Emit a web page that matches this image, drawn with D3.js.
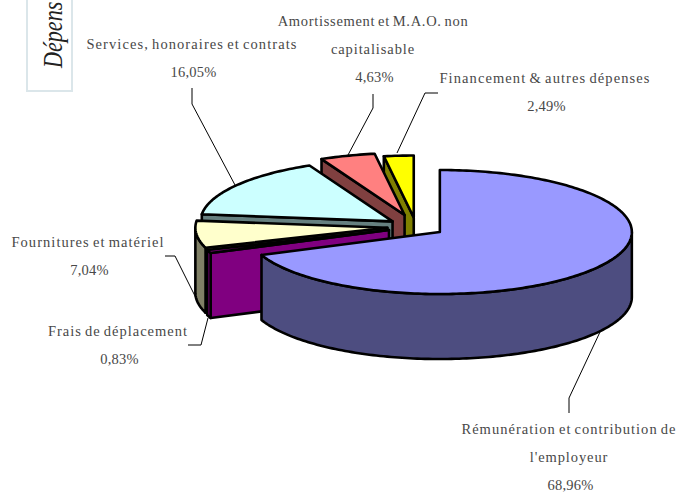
<!DOCTYPE html>
<html lang="fr">
<head>
    <meta charset="UTF-8">
    <title>Dépenses</title>
    <style>
        html, body { margin: 0; padding: 0; background: #fff; overflow: hidden; }
        .lbl {
            font-family: "Liberation Serif", serif;
            font-size: 14.5px;
            word-spacing: -1.5px;
            fill: #484848;
            text-anchor: middle;
        }
    </style>
    <script src="https://d3js.org/d3.v7.min.js"></script>
</head>
<body>
<svg id="chart" width="676" height="494"></svg>

<script>
    // values as printed on the chart, clockwise from 12 o'clock
    const categories = [
        "Rémunération et contribution de l'employeur",
        "Frais de déplacement",
        "Fournitures et matériel",
        "Services, honoraires et contrats",
        "Amortissement et M.A.O. non capitalisable",
        "Financement & autres dépenses"
    ];
    const values = [68.96, 0.83, 7.04, 16.05, 4.63, 2.49];
    const valueLabels = ["68,96%", "0,83%", "7,04%", "16,05%", "4,63%", "2,49%"];

    // look of each slice, same order as above
    const topColors = ["#9999ff", "#800080", "#ffffcc", "#ccffff", "#ff8080", "#ffff00"];
    const sideColors = ["#4d4d80", "#800080", "#808066", "#668080", "#804040", "#808000"];
    const pulls = [0.15, 0.15, 0.15, 0.15, 0.2, 0.15];

    // label lines: centre x, first baseline, wanted width of line 1
    const labelLines = [
        ["Rémunération et contribution de", "l'employeur"],
        ["Frais de déplacement"],
        ["Fournitures et matériel"],
        ["Services, honoraires et contrats"],
        ["Amortissement et M.A.O. non", "capitalisable"],
        ["Financement & autres dépenses"]
    ];
    const labelPos = [[569, 434], [118, 336], [88, 247], [192, 49], [373, 26], [545, 83]];
    const labelWidth = [214, 139, 152, 210, 190, 210];
    const leaders = [
        [[569, 413], [569, 398], [600, 332]],
        [[188, 345], [201, 345], [208, 318]],
        [[165, 256], [175, 256], [197, 300]],
        [[192, 88], [192, 104], [235, 185]],
        [[373, 94], [373, 108], [348, 155]],
        [[438, 93], [425, 93], [397, 153]]
    ];

    const cx = 416, cy = 226.8, rx = 192, ry = 62, depth = 65;

    const svg = d3.select("#chart");
    const line = d3.line();

    const slices = d3.pie().sort(null)(values).map(function (d, i) {
        const mid = (d.startAngle + d.endAngle) / 2;
        return {
            i: i,
            a0: d.startAngle,
            a1: d.endAngle,
            ox: cx + pulls[i] * rx * Math.sin(mid),
            oy: cy - pulls[i] * ry * Math.cos(mid)
        };
    });

    function rim(s, a, drop) {
        return [s.ox + rx * Math.sin(a), s.oy - ry * Math.cos(a) + (drop || 0)];
    }

    function arcPoints(s, a0, a1, drop) {
        const n = Math.max(2, Math.ceil((a1 - a0) / 0.02));
        return d3.range(n + 1).map(function (k) {
            return rim(s, a0 + (a1 - a0) * k / n, drop);
        });
    }

    function draw(points, fill) {
        svg.append("path")
            .attr("d", line(points) + "Z")
            .attr("fill", fill)
            .attr("stroke", "#000")
            .attr("stroke-width", 2.6)
            .attr("stroke-linejoin", "round");
    }

    // title box, runs off the top of the picture
    svg.append("rect")
        .attr("x", 27).attr("y", -20)
        .attr("width", 45).attr("height", 111)
        .attr("fill", "#fff")
        .attr("stroke", "#dbe6ea")
        .attr("stroke-width", 2);
    svg.append("text")
        .attr("transform", "translate(62,68) rotate(-90) scale(0.82,1)")
        .attr("font-family", "Liberation Serif, serif")
        .attr("font-style", "italic")
        .attr("font-size", 27)
        .attr("fill", "#222")
        .text("Dépens");

    // back slices first so the front ones cover them
    slices.slice().reverse().forEach(function (s) {
        const side = sideColors[s.i];
        const apex = [s.ox, s.oy];
        const apexLow = [s.ox, s.oy + depth];

        // cut faces that turn toward the viewer
        if (Math.sin(s.a0) < 0) {
            draw([apex, rim(s, s.a0), rim(s, s.a0, depth), apexLow], side);
        }
        if (Math.sin(s.a1) > 0) {
            draw([apex, rim(s, s.a1), rim(s, s.a1, depth), apexLow], side);
        }

        // outer wall, only the near half of the rim shows
        const w0 = Math.max(s.a0, Math.PI / 2);
        const w1 = Math.min(s.a1, Math.PI * 1.5);
        if (w1 > w0) {
            draw(arcPoints(s, w0, w1).concat(arcPoints(s, w0, w1, depth).reverse()), side);
        }

        draw([apex].concat(arcPoints(s, s.a0, s.a1)), topColors[s.i]);
    });

    leaders.forEach(function (pts) {
        svg.append("path")
            .attr("d", line(pts))
            .attr("fill", "none")
            .attr("stroke", "#000")
            .attr("stroke-width", 1);
    });

    const step = 28.2;
    categories.forEach(function (name, i) {
        const lines = labelLines[i].concat([valueLabels[i]]);
        lines.forEach(function (txt, j) {
            const isValue = j === lines.length - 1;
            const t = svg.append("text")
                .attr("class", "lbl")
                .attr("x", labelPos[i][0] + (isValue ? 1.5 : 0))
                .attr("y", labelPos[i][1] + j * step)
                .text(txt);
            // first line is spread to its measured width in the picture
            if (j === 0) {
                const extra = (labelWidth[i] - t.node().getComputedTextLength()) / (txt.length - 1);
                t.style("letter-spacing", extra + "px");
            } else {
                t.style("letter-spacing", isValue ? "0.2px" : "0.9px");
            }
        });
    });
</script>
</body>
</html>
